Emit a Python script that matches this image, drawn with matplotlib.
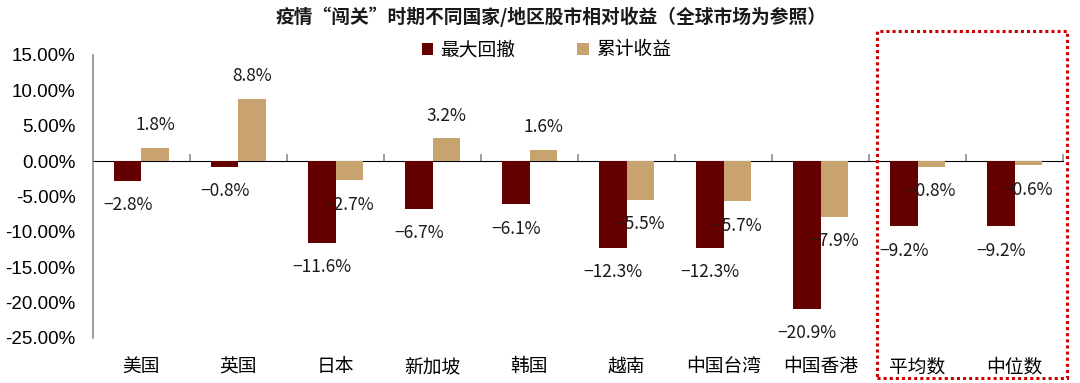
import numpy as np
import matplotlib as mpl
mpl.use('Agg')
import matplotlib.pyplot as plt
from matplotlib.patches import Rectangle

plt.rcParams['font.family'] = ['Noto Sans CJK SC', 'DejaVu Sans']

# data (percent)
categories = ['美国', '英国', '日本', '新加坡', '韩国', '越南', '中国台湾', '中国香港', '平均数', '中位数']
max_drawdown = [-2.8, -0.8, -11.6, -6.7, -6.1, -12.3, -12.3, -20.9, -9.2, -9.2]
cum_return = [1.8, 8.8, -2.7, 3.2, 1.6, -5.5, -5.7, -7.9, -0.8, -0.6]
yticks = [15, 10, 5, 0, -5, -10, -15, -20, -25]

red = '#650000'
tan = '#C8A26F'
axis_gray = '#8c8c8c'

fig = plt.figure(figsize=(10.8, 3.83), dpi=100)
ax = fig.add_axes([0.0861, 0.1175, 0.8982, 0.7389])

x = np.arange(len(categories))
w = 0.285
b1 = ax.bar(x - w / 2, max_drawdown, w, color=red, label='最大回撤')
b2 = ax.bar(x + w / 2, cum_return, w, color=tan, label='累计收益')

# data labels
for bars, vals in ((b1, max_drawdown), (b2, cum_return)):
    for r, v in zip(bars, vals):
        xc = r.get_x() + r.get_width() / 2
        off = 16.5 if v >= 0 else -17.5
        txt = ('%.1f%%' % v).replace('-', '\u2212')
        ax.annotate(txt, (xc, v), xytext=(0, off), textcoords='offset points',
                    ha='center', va='center', fontsize=12.5, color='#1a1a1a')

ax.set_xlim(-0.5, len(categories) - 0.5)
ax.set_ylim(-25, 15)
ax.set_yticks(yticks)
ax.set_yticklabels(['%.2f%%' % t for t in yticks], family=['Liberation Sans', 'DejaVu Sans'], fontsize=13.5)
ax.tick_params(axis='y', length=0, pad=12.5)

ax.set_xticks(x)
ax.set_xticklabels(categories, fontsize=13.5)
ax.tick_params(axis='x', length=0, pad=13)

for s in ['top', 'right', 'bottom']:
    ax.spines[s].set_visible(False)
ax.spines['left'].set_color(axis_gray)
ax.spines['left'].set_linewidth(1.2)

# zero line with boundary ticks
sec = ax.secondary_xaxis(25 / 40)
sec.set_xticks(np.arange(0.5, len(categories), 1))
sec.set_xticklabels([])
sec.tick_params(axis='x', direction='out', length=5, color=axis_gray, width=1.2)
sec.spines['bottom'].set_color(axis_gray)
sec.spines['bottom'].set_linewidth(1.2)

fig.text(0.51, 0.955, '疫情“闯关”时期不同国家/地区股市相对收益（全球市场为参照）',
         ha='center', va='center', fontsize=13.5, fontweight='bold', color='#1a1a1a')

fig.legend(handles=[b1, b2], loc='center', bbox_to_anchor=(0.506, 0.87), ncol=2, frameon=False,
           fontsize=13.5, handlelength=0.6, handleheight=0.6, handletextpad=0.4, columnspacing=3.3)

fig.add_artist(Rectangle((0.812, 0.013), 0.176, 0.906, transform=fig.transFigure, fill=False,
                         edgecolor='#D00000', linestyle=(0, (1, 1)), linewidth=2.2))

plt.savefig('out.png', dpi=100)
